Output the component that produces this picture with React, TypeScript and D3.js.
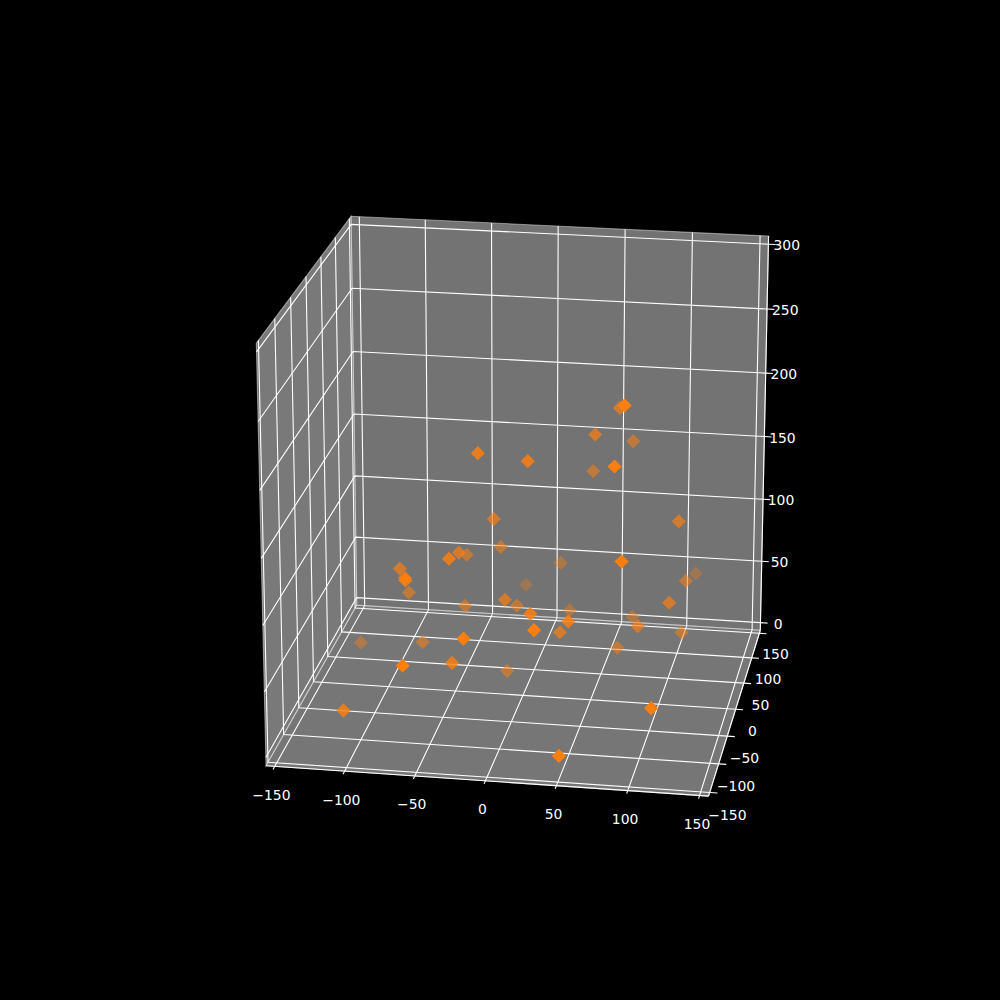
import * as d3 from "d3";

const xValues = [-24.8, 10.2, -18.4, -19.5, -40.6, -41.6, -43.5, -82.6, -70.4, -70, -83.4, -15.2, 66, 81.2, 49.7, 70.9, 43.5, 76.8, 112.2, 17.5, 85.4, 110, 114.4, -42.6, -7.2, -5.6, 18.1, 28.2, -124.3, -71.5, -19.7, -60.3, -34.3, -9.8, -107.8, 26, 44.8, 32.9, 71.9, 87.6, 108.8, 113.4, 68.1, 111.4, 50.2];
const yValues = [-43.7, -39.8, -16.1, 19.1, -72.3, -28.5, 13, -39.3, -82.1, -82.6, -3.2, 103.5, 25.8, -57, 16.4, 61.2, 49, -72.5, 5.3, 63.8, -94.1, 127.5, 33.2, 0.4, -34.4, 6.6, -75.9, -120.4, 19.3, -13.7, -130.5, -143.9, -96.8, -10.5, -120.8, 52.9, -73.2, -35.7, 59.1, -24.9, -15.5, 20, 8.4, -125.1, -147];
const zValues = [195.7, 190.4, 136.4, 101.7, 125.5, 113.6, 96.3, 102.8, 112.7, 111, 70.4, 40.2, 211.3, 241.8, 193.4, 174.1, 153.6, 201.8, 134.7, 74.7, 139.6, 48.1, 78.4, 61.3, 81.8, 61.5, 88.9, 94.7, 19.3, 36.5, 89.1, 71.4, 56.2, 16.7, 24.6, 41.8, 83.8, 59.9, 37.3, 64, 79.8, 43.1, 32.6, 43.6, 12.3];

const xTicks = [-150, -100, -50, 0, 50, 100, 150];
const yTicks = [-150, -100, -50, 0, 50, 100, 150];
const zTicks = [0, 50, 100, 150, 200, 250, 300];

const SIZE = 1000;
const ELEV = (20 * Math.PI) / 180;
const AZIM = (-80.4 * Math.PI) / 180;
const DIST = 10;
const SCALE_X = (770 / 0.185) * 1.005;
const SCALE_Y = (770 / 0.185) * 1.001;
const ORIGIN_X = 522.9;
const ORIGIN_Y = 495;

// panes sit a little outside the data limits
const LOW = -1 / 48;
const HIGH = 1 + 1 / 48;
const TICK_OUT = 0.018;

const xScale = d3.scaleLinear().domain([-150, 150]).range([0, 1]);
const yScale = d3.scaleLinear().domain([-150, 150]).range([0, 1]);
const zScale = d3.scaleLinear().domain([0, 300]).range([0, 1]);

const E = [Math.cos(ELEV) * Math.cos(AZIM), Math.cos(ELEV) * Math.sin(AZIM), Math.sin(ELEV)];
const U = [-Math.sin(AZIM), Math.cos(AZIM), 0];
const V = [E[1] * U[2] - E[2] * U[1], E[2] * U[0] - E[0] * U[2], E[0] * U[1] - E[1] * U[0]];

const dot = (a: number[], b: number[]) => a[0] * b[0] + a[1] * b[1] + a[2] * b[2];

// position in the unit box -> pixel, same camera as a mplot3d view
function project(nx: number, ny: number, nz: number) {
  const p = [nx - 0.5, ny - 0.5, nz - 0.5];
  const w = DIST - dot(p, E);
  return {
    x: ORIGIN_X + (SCALE_X * dot(p, U)) / w,
    y: ORIGIN_Y - (SCALE_Y * dot(p, V)) / w,
    depth: dot(p, E),
  };
}

const pathOf = (pts: number[][]) =>
  d3.line<number[]>()
    .x((d) => project(d[0], d[1], d[2]).x)
    .y((d) => project(d[0], d[1], d[2]).y)(pts) ?? "";

const panes = [
  { fill: "rgba(242,242,242,0.5)", pts: [[LOW, LOW, LOW], [LOW, HIGH, LOW], [LOW, HIGH, HIGH], [LOW, LOW, HIGH]] },
  { fill: "rgba(230,230,230,0.5)", pts: [[LOW, HIGH, LOW], [HIGH, HIGH, LOW], [HIGH, HIGH, HIGH], [LOW, HIGH, HIGH]] },
  { fill: "rgba(236,236,236,0.5)", pts: [[LOW, LOW, LOW], [HIGH, LOW, LOW], [HIGH, HIGH, LOW], [LOW, HIGH, LOW]] },
];

const points = xValues
  .map((x, i) => project(xScale(x), yScale(yValues[i]), zScale(zValues[i])))
  .sort((a, b) => a.depth - b.depth);

const depthScale = d3
  .scaleLinear()
  .domain(d3.extent(points, (d) => d.depth) as [number, number])
  .range([0, 1]);
const alphaScale = d3.scalePow().exponent(1.25).domain([0, 1]).range([0.3, 1]);

const diamond = d3.symbol().type(d3.symbolDiamond2).size(128)() ?? "";

const fmt = (v: number) => String(v).replace("-", "\u2212");

export default function App() {
  return (
    <svg
      width={SIZE}
      height={SIZE}
      viewBox={`0 0 ${SIZE} ${SIZE}`}
      style={{ position: "absolute", left: 0, top: 0, display: "block", background: "#000" }}
      fontFamily="'DejaVu Sans'"
      fontSize={13.9}
    >
      <rect width={SIZE} height={SIZE} fill="#000" />

      {panes.map((p, i) => (
        <path key={i} d={pathOf(p.pts) + "Z"} fill={p.fill} stroke={p.fill} strokeWidth={1.1} />
      ))}

      {/* grid */}
      <g fill="none" stroke="#fff" strokeWidth={1.1}>
        {xTicks.map((t) => (
          <path key={t} d={pathOf([[xScale(t), LOW, LOW], [xScale(t), HIGH, LOW], [xScale(t), HIGH, HIGH]])} />
        ))}
        {yTicks.map((t) => (
          <path key={t} d={pathOf([[HIGH, yScale(t), LOW], [LOW, yScale(t), LOW], [LOW, yScale(t), HIGH]])} />
        ))}
        {zTicks.map((t) => (
          <path key={t} d={pathOf([[LOW, LOW, zScale(t)], [LOW, HIGH, zScale(t)], [HIGH, HIGH, zScale(t)]])} />
        ))}
      </g>

      {/* axis lines */}
      <g fill="none" stroke="#fff" strokeWidth={1.1}>
        <path d={pathOf([[LOW, LOW, LOW], [HIGH, LOW, LOW]])} />
        <path d={pathOf([[HIGH, LOW, LOW], [HIGH, HIGH, LOW]])} />
        <path d={pathOf([[HIGH, HIGH, LOW], [HIGH, HIGH, HIGH]])} />
      </g>

      {/* ticks */}
      <g fill="none" stroke="#fff" strokeWidth={1.1}>
        {xTicks.map((t) => (
          <path key={t} d={pathOf([[xScale(t), LOW, LOW], [xScale(t), LOW - TICK_OUT, LOW]])} />
        ))}
        {yTicks.map((t) => (
          <path key={t} d={pathOf([[HIGH, yScale(t), LOW], [HIGH + TICK_OUT, yScale(t), LOW]])} />
        ))}
        {zTicks.map((t) => (
          <path key={t} d={pathOf([[HIGH, HIGH, zScale(t)], [HIGH + TICK_OUT, HIGH, zScale(t)]])} />
        ))}
      </g>

      {/* tick labels */}
      <g fill="#fff" textAnchor="middle" dominantBaseline="central">
        {xTicks.map((t) => {
          const p = project(xScale(t), LOW - 0.04, LOW - 0.055);
          return (
            <text key={t} x={p.x} y={p.y}>
              {fmt(t)}
            </text>
          );
        })}
        {yTicks.map((t) => {
          const p = project(HIGH + 0.042, yScale(t), LOW - 0.055);
          return (
            <text key={t} x={p.x} y={p.y}>
              {fmt(t)}
            </text>
          );
        })}
        {zTicks.map((t) => {
          const p = project(HIGH + 0.045, HIGH, zScale(t));
          return (
            <text key={t} x={p.x} y={p.y}>
              {fmt(t)}
            </text>
          );
        })}
      </g>

      {/* far points first, depth fades the far markers */}
      <g fill="#ff7f0e">
        {points.map((p, i) => (
          <path key={i} d={diamond} transform={`translate(${p.x},${p.y})`} fillOpacity={alphaScale(depthScale(p.depth))} />
        ))}
      </g>
    </svg>
  );
}
